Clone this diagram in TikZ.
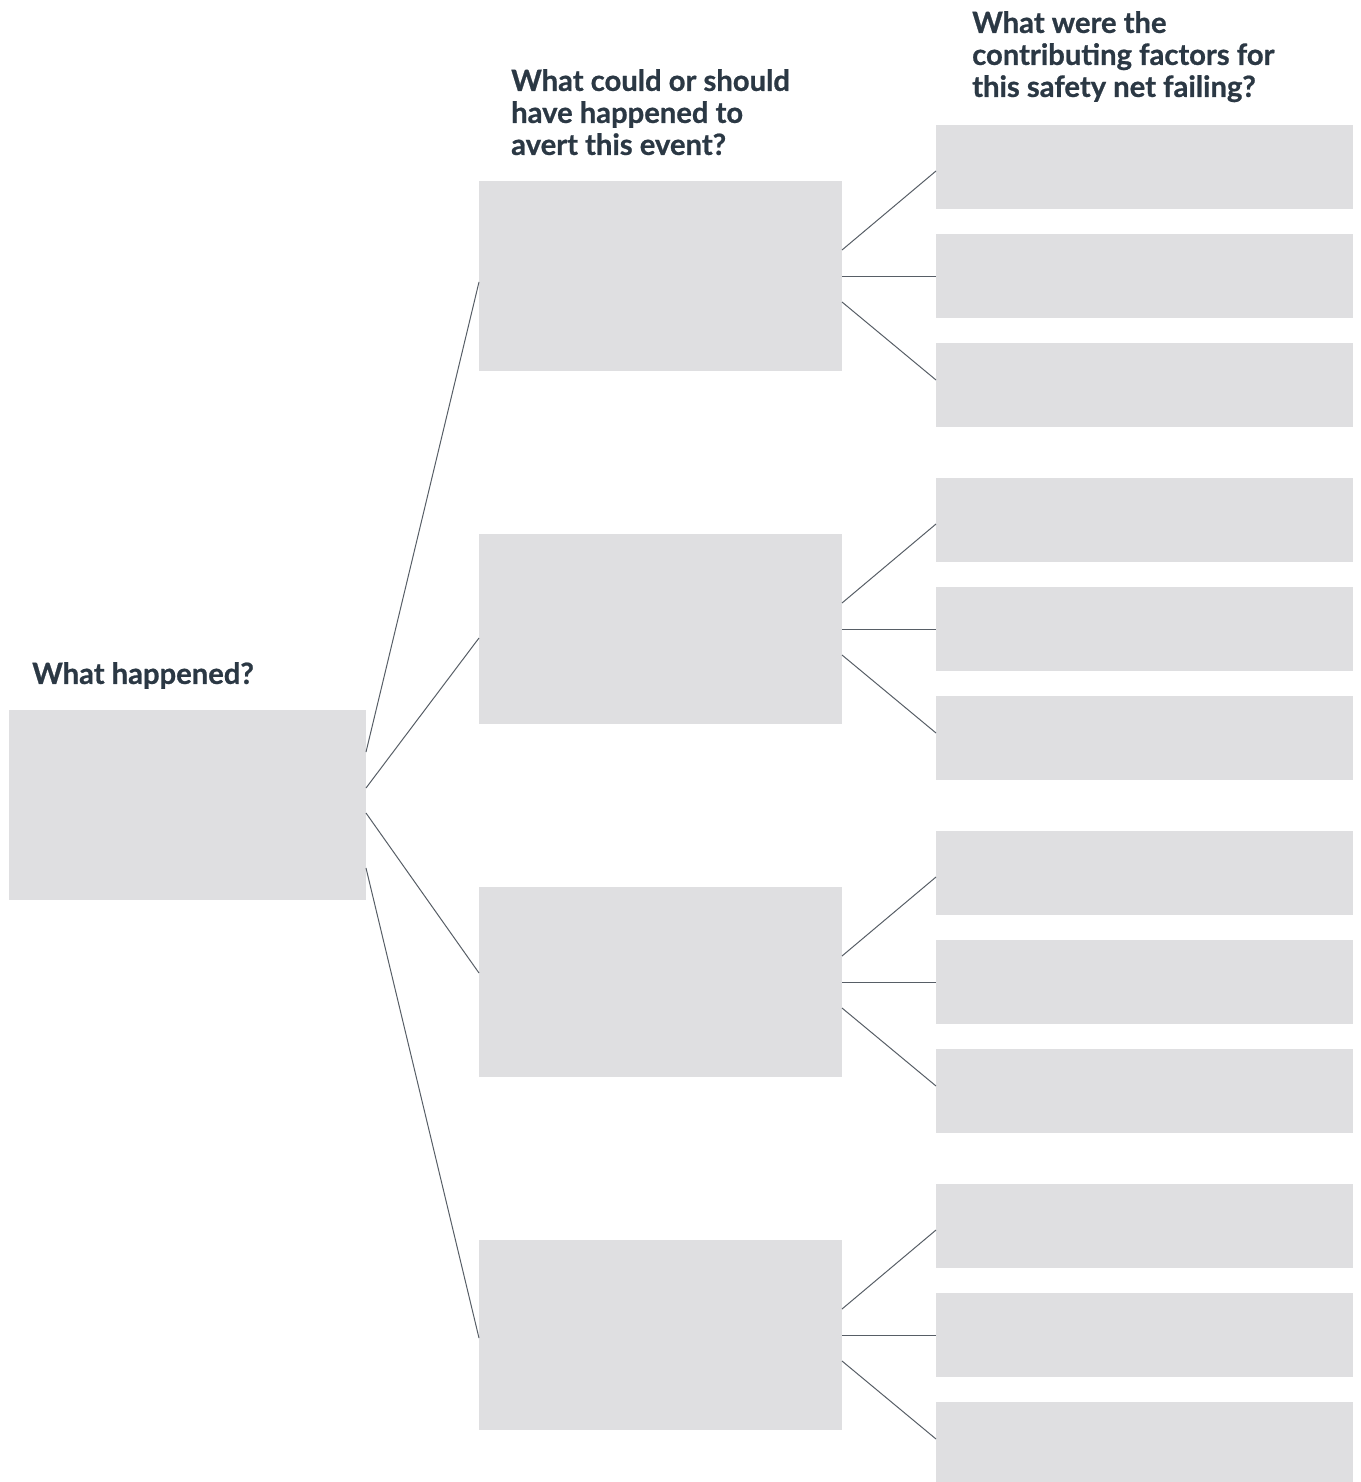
\documentclass[tikz,border=0pt]{standalone}
\usepackage{fontspec}
\setmainfont{Lato}[BoldFeatures={FakeBold=0.8}]
\definecolor{boxgray}{HTML}{DFDFE1}
\definecolor{headtext}{HTML}{2B3844}
\definecolor{linkgray}{HTML}{575E66}
\tikzset{
  box/.style={fill=boxgray, draw=none, inner sep=0pt, outer sep=0pt, anchor=north west},
  leftbox/.style={box, minimum width=357pt, minimum height=190pt},
  midbox/.style={box, minimum width=363pt, minimum height=190pt},
  rightbox/.style={box, minimum width=417pt, minimum height=84pt},
  heading/.style={text=headtext, font=\bfseries\fontsize{29.2}{32}\selectfont, align=left, inner sep=0pt, anchor=north west},
  link/.style={draw=linkgray, line width=1pt}
}
\begin{document}
\begin{tikzpicture}[x=1pt,y=-1pt]
\useasboundingbox (0,0) rectangle (1360,1482);
% headings
\node[heading] (h1) at (32,662) {What happened?};
\node[heading] (h2) at (511,69) {What could or should\\have happened to\\avert this event?};
\node[heading] (h3) at (972,11) {What were the\\contributing factors for\\this safety net failing?};
% boxes
\node[leftbox] (L) at (9,710) {};
\foreach \k in {1,...,4}{
  \node[midbox] (M\k) at (479,{181+353*(\k-1)}) {};
  \foreach \j in {1,2,3}{
    \node[rightbox] (R\k\j) at (936,{125+353*(\k-1)+109*(\j-1)}) {};
  }
}
% connectors from left box
\draw[link] ([yshift=53pt]L.east) -- ([yshift=-6pt]M1.west);
\draw[link] ([yshift=17pt]L.east) -- ([yshift=-9pt]M2.west);
\draw[link] ([yshift=-8pt]L.east) -- ([yshift=9pt]M3.west);
\draw[link] ([yshift=-63pt]L.east) -- ([yshift=-3pt]M4.west);
% connectors to right boxes
\foreach \k in {1,...,4}{
  \draw[link] ([yshift=26pt]M\k.east) -- ([yshift=-4pt]R\k1.west);
  \draw[link] (M\k.east) -- (R\k2.west);
  \draw[link] ([yshift=-26pt]M\k.east) -- ([yshift=5pt]R\k3.west);
}
\end{tikzpicture}
\end{document}
